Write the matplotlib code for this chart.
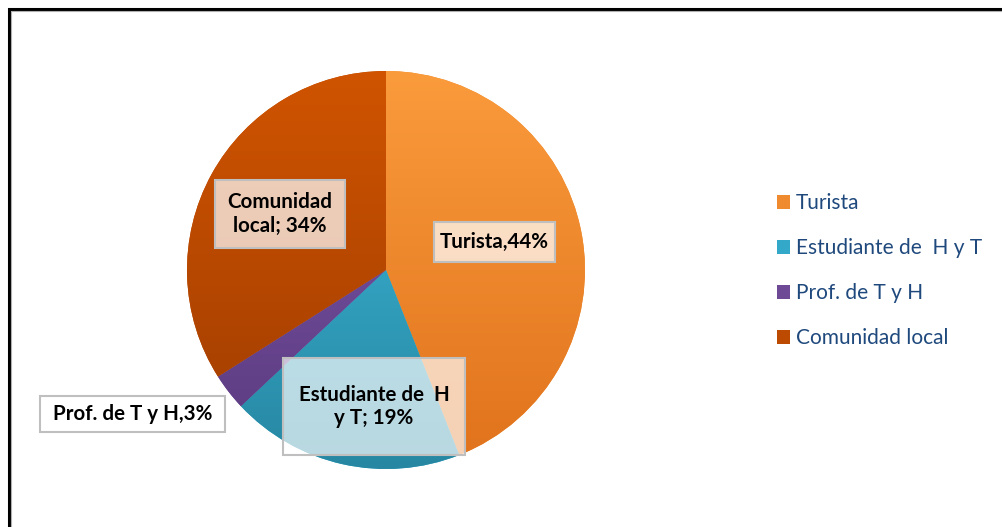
import numpy as np
import matplotlib.pyplot as plt
from matplotlib.colors import LinearSegmentedColormap
from matplotlib.patches import Rectangle, Patch

plt.rcParams['font.family'] = ['Lato', 'DejaVu Sans']

categories = ['Turista', 'Estudiante de  H y T', 'Prof. de T y H', 'Comunidad local']
values = [44, 19, 3, 34]
labels = ['Turista,44%', 'Estudiante de  H\ny T; 19%', 'Prof. de T y H,3%', 'Comunidad\nlocal; 34%']
top_colors = ['#FA9B3C', '#3DBBDD', '#8058AC', '#D05400']
bottom_colors = ['#E0721C', '#2787A2', '#5A3A7E', '#9E3C00']
mid_colors = ['#F08A2E', '#33A8C8', '#6E4A96', '#BC4A00']

W, H = 1003, 527
fig = plt.figure(figsize=(W / 100, H / 100), dpi=100)

# outer frame (goes off the right and bottom edge)
fig.patches.append(Rectangle((9 / W, -0.05), 1.1, 1 - 9 / H + 0.05, transform=fig.transFigure,
                             fill=False, edgecolor='black', linewidth=2.2))
fig.patches.append(Rectangle((11 / W, -0.05), 1.1, 1 - 11 / H + 0.05, transform=fig.transFigure,
                             fill=False, edgecolor='#b0b0b0', linewidth=0.8))

cx, cy, r = 386, 270, 199
ax = fig.add_axes([(cx - r) / W, (H - cy - r) / H, 2 * r / W, 2 * r / H])

wedges, _ = ax.pie(values, colors=mid_colors, startangle=90, counterclock=False, radius=1)

grad = np.linspace(0, 1, 256).reshape(-1, 1)
for w, c1, c2 in zip(wedges, top_colors, bottom_colors):
    cmap = LinearSegmentedColormap.from_list('g', [c1, c2])
    im = ax.imshow(grad, extent=[-1, 1, -1, 1], cmap=cmap, origin='upper',
                   aspect='auto', zorder=2)
    im.set_clip_path(w)
ax.set_xlim(-1, 1)
ax.set_ylim(-1, 1)
ax.set_aspect('equal')
ax.axis('off')


def px(x, y):
    return (x - cx) / r, (cy - y) / r


# label boxes (pixel boxes: left, top, right, bottom)
boxes = [(434, 222, 555, 262), (283, 358, 465, 455), (40, 396, 225, 432), (215, 180, 345, 248)]
face = [(1, 1, 1, 0.72), (1, 1, 1, 0.68), (1, 1, 1, 1), (1, 1, 1, 0.72)]
for lab, (l, t, rr, b), fc in zip(labels, boxes, face):
    x0, y0 = px(l, b)
    x1, y1 = px(rr, t)
    ax.add_patch(Rectangle((x0, y0), x1 - x0, y1 - y0, facecolor=fc,
                           edgecolor='#bfbfbf', linewidth=1.5, zorder=5, clip_on=False))
    ax.text((x0 + x1) / 2, (y0 + y1) / 2, lab, ha='center', va='center',
            fontsize=14.8, fontweight='bold', color='black', zorder=6,
            linespacing=1.2)

handles = [Patch(facecolor=c, edgecolor='none') for c in mid_colors]
fig.legend(handles, categories, loc='upper left', bbox_to_anchor=(769 / W, 1 - 185 / H),
           frameon=False, fontsize=15, labelcolor='#1F497D', handlelength=0.6,
           handleheight=0.6, handletextpad=0.3, labelspacing=1.2, borderaxespad=0)

fig.savefig('out.png', dpi=100)
